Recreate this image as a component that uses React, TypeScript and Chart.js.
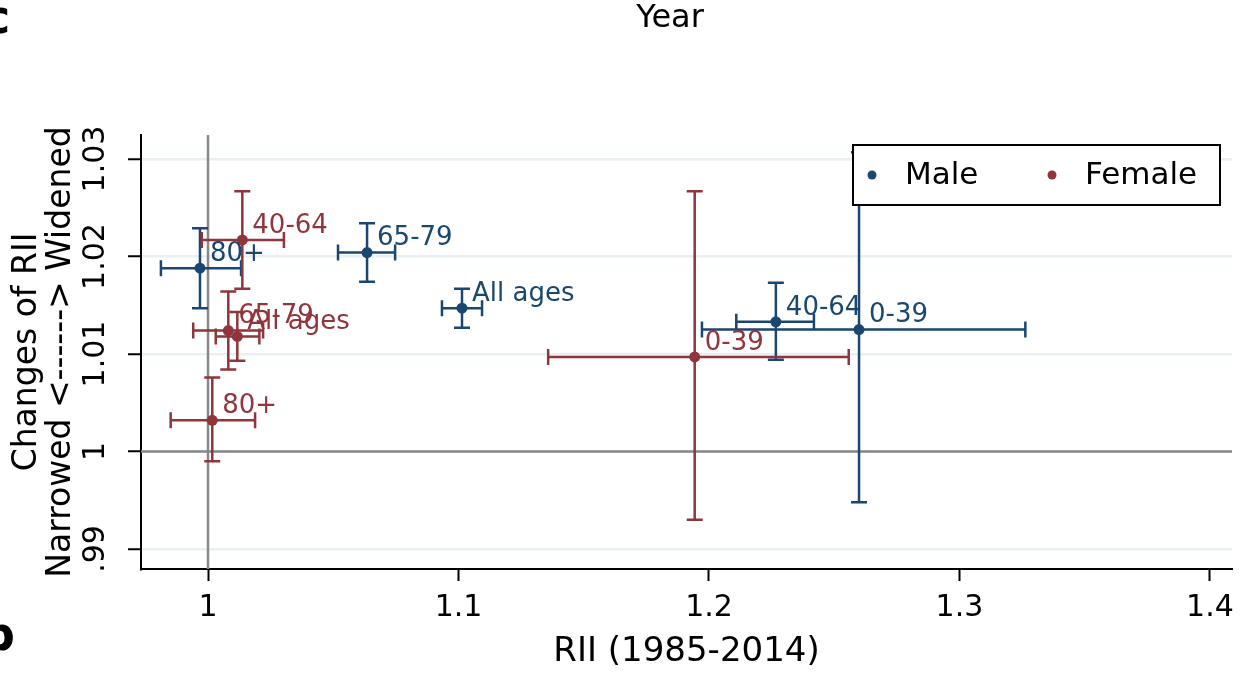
import React, { useEffect, useRef } from 'react';
import { Chart, registerables } from 'chart.js';

Chart.register(...registerables);

const FONT = 'DejaVu Sans';
const MALE_COLOR = '#1a476f';
const FEMALE_COLOR = '#90353b';

const ageGroups = ['0-39', '40-64', '65-79', '80+', 'All ages'];

const maleX = [1.2599, 1.2267, 1.0635, 0.9968, 1.1014];
const maleY = [1.0125, 1.0133, 1.0204, 1.0188, 1.0147];
const maleXLo = [1.1972, 1.2109, 1.0519, 0.9812, 1.0934];
const maleXHi = [1.3263, 1.2419, 1.0747, 1.0132, 1.1094];
const maleYLo = [0.9948, 1.0094, 1.0174, 1.0147, 1.0127];
const maleYHi = [1.0307, 1.0173, 1.0234, 1.0229, 1.0167];

const femaleX = [1.1943, 1.0137, 1.0081, 1.0017, 1.0117];
const femaleY = [1.0097, 1.0217, 1.0124, 1.0032, 1.0118];
const femaleXLo = [1.1358, 0.9975, 0.9941, 0.9851, 1.0031];
const femaleXHi = [1.2558, 1.0303, 1.022, 1.0188, 1.0205];
const femaleYLo = [0.993, 1.0167, 1.0084, 0.999, 1.0093];
const femaleYHi = [1.0267, 1.0267, 1.0164, 1.0076, 1.0143];

const xTicks = [1, 1.1, 1.2, 1.3, 1.4];
const xTickLabels = ['1', '1.1', '1.2', '1.3', '1.4'];
const yTicks = [0.99, 1, 1.01, 1.02, 1.03];
const yTickLabels = ['.99', '1', '1.01', '1.02', '1.03'];

const xMin = 0.97325;
const xMax = 1.4088;
const yMin = 0.98795;
const yMax = 1.03246;

const seriesNames = ['Male', 'Female'];
const xTitle = 'RII (1985-2014)';
const yTitleLines = ['Changes of RII', 'Narrowed <------> Widened'];
const topTitle = 'Year';

const series = [
  { name: seriesNames[0], color: MALE_COLOR, x: maleX, y: maleY, xlo: maleXLo, xhi: maleXHi, ylo: maleYLo, yhi: maleYHi },
  { name: seriesNames[1], color: FEMALE_COLOR, x: femaleX, y: femaleY, xlo: femaleXLo, xhi: femaleXHi, ylo: femaleYLo, yhi: femaleYHi },
];

const customPlugin = {
  id: 'customDraw',
  beforeDatasetsDraw(chart: any) {
    const { ctx, chartArea, scales } = chart;
    const xs = scales.x;
    const ys = scales.y;
    ctx.save();
    ctx.strokeStyle = '#888888';
    ctx.lineWidth = 2.5;
    const x1 = xs.getPixelForValue(1);
    const y1 = ys.getPixelForValue(1);
    ctx.beginPath();
    ctx.moveTo(chartArea.left, y1);
    ctx.lineTo(chartArea.right, y1);
    ctx.moveTo(x1, chartArea.top);
    ctx.lineTo(x1, chartArea.bottom);
    ctx.stroke();
    const cap = 8;
    series.forEach((s) => {
      ctx.strokeStyle = s.color;
      ctx.lineWidth = 2.5;
      for (let i = 0; i < s.x.length; i++) {
        const px = xs.getPixelForValue(s.x[i]);
        const py = ys.getPixelForValue(s.y[i]);
        const xl = xs.getPixelForValue(s.xlo[i]);
        const xh = xs.getPixelForValue(s.xhi[i]);
        const yl = ys.getPixelForValue(s.ylo[i]);
        const yh = ys.getPixelForValue(s.yhi[i]);
        ctx.beginPath();
        ctx.moveTo(xl, py);
        ctx.lineTo(xh, py);
        ctx.moveTo(xl, py - cap);
        ctx.lineTo(xl, py + cap);
        ctx.moveTo(xh, py - cap);
        ctx.lineTo(xh, py + cap);
        ctx.moveTo(px, yl);
        ctx.lineTo(px, yh);
        ctx.moveTo(px - cap, yl);
        ctx.lineTo(px + cap, yl);
        ctx.moveTo(px - cap, yh);
        ctx.lineTo(px + cap, yh);
        ctx.stroke();
      }
    });
    ctx.restore();
  },
  afterDatasetsDraw(chart: any) {
    const { ctx, scales } = chart;
    const xs = scales.x;
    const ys = scales.y;
    ctx.save();
    ctx.font = `26px "${FONT}"`;
    ctx.textAlign = 'left';
    ctx.textBaseline = 'middle';
    series.forEach((s) => {
      ctx.fillStyle = s.color;
      for (let i = 0; i < s.x.length; i++) {
        const px = xs.getPixelForValue(s.x[i]);
        const py = ys.getPixelForValue(s.y[i]);
        ctx.fillText(ageGroups[i], px + 10, py - 14);
      }
    });
    ctx.restore();
  },
  afterDraw(chart: any) {
    const { ctx, chartArea, scales } = chart;
    const ys = scales.y;
    ctx.save();
    // legend
    const lx = chartArea.right - 12;
    const lw = 367;
    const lt = chartArea.top + 10;
    const lh = 60;
    ctx.fillStyle = '#ffffff';
    ctx.fillRect(lx - lw, lt, lw, lh);
    ctx.strokeStyle = '#000';
    ctx.lineWidth = 2;
    ctx.strokeRect(lx - lw, lt, lw, lh);
    const cy = lt + lh / 2;
    const items = [
      { label: series[0].name, color: series[0].color, mx: lx - lw + 19, tx: lx - lw + 52 },
      { label: series[1].name, color: series[1].color, mx: lx - lw + 199, tx: lx - lw + 232 },
    ];
    ctx.font = `31px "${FONT}"`;
    ctx.textBaseline = 'middle';
    ctx.textAlign = 'left';
    items.forEach((it) => {
      ctx.fillStyle = it.color;
      ctx.beginPath();
      ctx.arc(it.mx, cy, 4.5, 0, Math.PI * 2);
      ctx.fill();
      ctx.fillStyle = '#000';
      ctx.fillText(it.label, it.tx, cy + 1);
    });
    // y tick labels (rotated)
    ctx.font = `30px "${FONT}"`;
    ctx.fillStyle = '#000';
    ctx.textAlign = 'center';
    ctx.textBaseline = 'middle';
    yTicks.forEach((v, i) => {
      const py = ys.getPixelForValue(v);
      ctx.save();
      ctx.translate(96, py);
      ctx.rotate(-Math.PI / 2);
      ctx.fillText(yTickLabels[i], 0, 0);
      ctx.restore();
    });
    // y title
    const midY = (chartArea.top + chartArea.bottom) / 2;
    ctx.font = `33px "${FONT}"`;
    [27, 61].forEach((x, i) => {
      ctx.save();
      ctx.translate(x, midY);
      ctx.rotate(-Math.PI / 2);
      ctx.fillText(yTitleLines[i], 0, 0);
      ctx.restore();
    });
    // top title
    ctx.font = `32px "${FONT}"`;
    ctx.textAlign = 'center';
    ctx.textBaseline = 'alphabetic';
    ctx.fillText(topTitle, 670, 27);
    // cropped panel letters
    ctx.font = `bold 46px "${FONT}"`;
    ctx.textAlign = 'left';
    ctx.fillText('c', -17, 33);
    ctx.fillText('b', -18, 650);
    ctx.restore();
  },
};

export default function App() {
  const canvasRef = useRef<HTMLCanvasElement | null>(null);

  useEffect(() => {
    if (!canvasRef.current) return;
    const datasets = series.map((s) => ({
      label: s.name,
      data: s.x.map((x, i) => ({ x, y: s.y[i] })),
      backgroundColor: s.color,
      borderColor: s.color,
      pointRadius: 5.5,
      pointBorderWidth: 0,
      showLine: false,
    }));
    const chart = new Chart(canvasRef.current, {
      type: 'scatter',
      data: { datasets },
      plugins: [customPlugin],
      options: {
        animation: false,
        responsive: false,
        maintainAspectRatio: false,
        layout: { padding: { top: 135, right: 15, left: 0, bottom: 0 } },
        plugins: { legend: { display: false }, tooltip: { enabled: false } },
        scales: {
          x: {
            type: 'linear',
            min: xMin,
            max: xMax,
            afterBuildTicks: (s: any) => {
              s.ticks = xTicks.map((v) => ({ value: v }));
            },
            afterFit: (s: any) => {
              s.height = 104;
            },
            ticks: {
              autoSkip: false,
              maxRotation: 0,
              minRotation: 0,
              padding: 9,
              color: '#000',
              font: { family: FONT, size: 30 },
              callback: (v: any, i: number) => xTickLabels[i],
            },
            grid: {
              drawOnChartArea: false,
              drawTicks: true,
              tickLength: 12,
              tickColor: '#000',
              tickWidth: 2,
            },
            border: { display: true, color: '#000', width: 2 },
            title: {
              display: true,
              text: xTitle,
              color: '#000',
              font: { family: FONT, size: 34 },
              padding: { top: 0, bottom: 0 },
            },
          },
          y: {
            type: 'linear',
            min: yMin,
            max: yMax,
            afterBuildTicks: (s: any) => {
              s.ticks = yTicks.map((v) => ({ value: v }));
            },
            afterFit: (s: any) => {
              s.width = 141;
            },
            ticks: { display: false },
            grid: {
              color: '#e8f0f1',
              lineWidth: 2.5,
              drawTicks: true,
              tickLength: 13,
              tickColor: '#000',
              tickWidth: 2,
            },
            border: { display: true, color: '#000', width: 2 },
          },
        },
      },
    });
    return () => chart.destroy();
  }, []);

  return (
    <div style={{ position: 'absolute', left: 0, top: 0, width: 1247, height: 673, background: '#fff' }}>
      <canvas ref={canvasRef} width={1247} height={673} style={{ display: 'block' }} />
    </div>
  );
}
